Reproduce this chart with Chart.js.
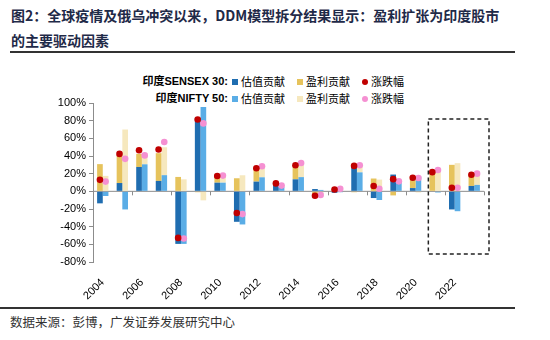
<!DOCTYPE html>
<html>
<head>
<meta charset="utf-8">
<script src="https://cdn.jsdelivr.net/npm/chart.js@4"></script>
<style>
  body { margin: 0; width: 550px; height: 340px; background: #fff; position: relative; overflow: hidden;
         font-family: "Liberation Sans", "Noto Sans CJK SC", sans-serif; }
  #title { position: absolute; left: 11px; top: 3px; width: 540px; white-space: nowrap; font-family: "Noto Sans CJK SC"; font-weight: bold;
           font-size: 14px; line-height: 25px; color: #1f2a48; }
  #rule1 { position: absolute; left: 10px; top: 51px; width: 505px; height: 2px; background: #333; }
  #rule2 { position: absolute; left: 0px; top: 307px; width: 515px; height: 2px; background: #333; }
  #source { position: absolute; left: 10px; top: 312px; font-family: "Noto Sans CJK SC"; font-size: 12.5px; color: #333; }
  .lg { position: absolute; font-size: 11px; color: #000; height: 16px; line-height: 16px; }
  .lg .name { position: absolute; right: 322px; white-space: nowrap; font-weight: bold; }
  .lg .it { position: absolute; white-space: nowrap; font-family: "Noto Sans CJK SC"; }
  .sw { display: inline-block; width: 6px; height: 6px; margin-right: 3px; vertical-align: 1px; }
  .dot { border-radius: 50%; }
  #wrap { position: absolute; left: 30px; top: 92px; width: 480px; height: 215px; }
</style>
</head>
<body>
<div id="title">图2：全球疫情及俄乌冲突以来，DDM模型拆分结果显示：盈利扩张为印度股市<br>的主要驱动因素</div>
<div id="rule1"></div>

<div class="lg" style="left:0;top:73px;width:550px">
  <span class="name">印度SENSEX 30:</span>
  <span class="it" style="left:232px"><span class="sw" style="background:#1f6db0"></span>估值贡献</span>
  <span class="it" style="left:297px"><span class="sw" style="background:#e6c35c"></span>盈利贡献</span>
  <span class="it" style="left:362px"><span class="sw dot" style="background:#c00000"></span>涨跌幅</span>
</div>
<div class="lg" style="left:0;top:90px;width:550px">
  <span class="name">印度NIFTY 50:</span>
  <span class="it" style="left:232px"><span class="sw" style="background:#5aade6"></span>估值贡献</span>
  <span class="it" style="left:297px"><span class="sw" style="background:#f6e8be"></span>盈利贡献</span>
  <span class="it" style="left:362px"><span class="sw dot" style="background:#f590d2"></span>涨跌幅</span>
</div>

<div id="wrap"><canvas id="chart"></canvas></div>
<div id="rule2"></div>
<div id="source">数据来源：彭博，广发证券发展研究中心</div>

<script>
// years on the x axis
const years = ['2004','2005','2006','2007','2008','2009','2010','2011','2012','2013',
               '2014','2015','2016','2017','2018','2019','2020','2021','2022','2023'];

// SENSEX 30: valuation / earnings contribution and index change (%)
const sensexVal    = [-13.6, 9.4, 27.6, 11.8, -59.5, 83, 9.8, -34.5, 11, 7, 13.6, 2.6, -1.7, 29, -7.6, 19, 3.7, 0, -20.5, 6.1];
const sensexEarn   = [30.8, 30.9, 14.9, 31.4, 16.3, -1, 8, 14.8, 15.9, 2, 15, -7, 3, -1, 14.5, -4.6, 13.3, 21, 30, 13];
const sensexChange = [13, 42.4, 46.5, 47.3, -52.7, 81.4, 17.4, -24.6, 26.1, 9, 29.6, -5, 2, 28.8, 6, 13.8, 15.3, 21.7, 4.1, 18.7];

// NIFTY 50
const niftyVal    = [-5.3, -20.5, 30.6, 18.3, -59.5, 95.5, 9.8, -37.5, 15.9, 5, 16.1, 1.6, -1, 21.5, -9.8, 11.8, 16.6, -1.3, -22.5, 7.3];
const niftyEarn   = [17.5, 70, 12.6, 31.6, 13.6, -10.2, 8.4, 18.2, 14, 1.5, 15.5, -3, 3.5, 9, 13.3, -0.5, -1.3, 24.3, 31.9, 14];
const niftyChange = [11, 36.8, 40.7, 55.8, -53.4, 76.9, 17.8, -25.8, 28.4, 6.5, 32, -4.2, 2.8, 29.6, 2.9, 11.3, 15.1, 24.2, 4.1, 20];

const yTicks = [-80, -60, -40, -20, 0, 20, 40, 60, 80, 100];

// put the dots over the centre of their own bar
const dotShift = {
  id: 'dotShift',
  afterDatasetsUpdate(chart) {
    [[4, 0], [5, 2]].forEach(([dot, bar]) => {
      const dm = chart.getDatasetMeta(dot);
      const bm = chart.getDatasetMeta(bar);
      dm.data.forEach((pt, i) => { pt.x = bm.data[i].x; });
    });
  }
};

// zero line, x ticks every two years, dashed box round 2021-2023
const extras = {
  id: 'extras',
  beforeDatasetsDraw(chart) {
    const ctx = chart.ctx, x = chart.scales.x, y = chart.scales.y;
    const step = x.getPixelForValue(1) - x.getPixelForValue(0);
    const y0 = y.getPixelForValue(0);
    ctx.save();
    ctx.strokeStyle = '#8c8c8c';
    ctx.lineWidth = 1;
    ctx.beginPath();
    ctx.moveTo(chart.chartArea.left, y0);
    ctx.lineTo(chart.chartArea.right, y0);
    for (let i = 2; i <= years.length; i += 2) {
      const bx = Math.round(x.getPixelForValue(i - 1) + step / 2) + 0.5;
      ctx.moveTo(bx, y0);
      ctx.lineTo(bx, y0 + 4);
    }
    ctx.stroke();
    ctx.restore();
  },
  afterDatasetsDraw(chart) {
    const ctx = chart.ctx, x = chart.scales.x, y = chart.scales.y;
    const step = x.getPixelForValue(1) - x.getPixelForValue(0);
    const left = x.getPixelForValue(17) - step / 2 + 3;
    const right = chart.chartArea.right + 5;
    const top = y.getPixelForValue(82), bottom = y.getPixelForValue(-71);
    ctx.save();
    ctx.strokeStyle = '#222';
    ctx.lineWidth = 1.5;
    ctx.setLineDash([4, 3]);
    ctx.strokeRect(left, top, right - left, bottom - top);
    ctx.restore();
  }
};

const barBase = { borderWidth: 0, order: 1, barPercentage: 1.0, categoryPercentage: 0.58 };

new Chart(document.getElementById('chart'), {
  type: 'bar',
  data: {
    labels: years,
    datasets: [
      { ...barBase, label: 'SENSEX 估值贡献', data: sensexVal, backgroundColor: '#1f6db0', stack: 's' },
      { ...barBase, label: 'SENSEX 盈利贡献', data: sensexEarn, backgroundColor: '#e6c35c', stack: 's' },
      { ...barBase, label: 'NIFTY 估值贡献', data: niftyVal, backgroundColor: '#5aade6', stack: 'n' },
      { ...barBase, label: 'NIFTY 盈利贡献', data: niftyEarn, backgroundColor: '#f6e8be', stack: 'n' },
      { type: 'line', label: 'SENSEX 涨跌幅', data: sensexChange, stack: 'sc', order: 0, showLine: false,
        pointRadius: 3.3, pointBackgroundColor: '#c00000', pointBorderWidth: 0 },
      { type: 'line', label: 'NIFTY 涨跌幅', data: niftyChange, stack: 'nc', order: 0, showLine: false,
        pointRadius: 3.3, pointBackgroundColor: '#f590d2', pointBorderWidth: 0 }
    ]
  },
  options: {
    responsive: true,
    maintainAspectRatio: false,
    animation: false,
    layout: { padding: { top: 11, right: 26, left: 0, bottom: 0 } },
    plugins: { legend: { display: false }, tooltip: { enabled: false } },
    scales: {
      x: {
        stacked: true,
        grid: { display: false },
        border: { display: false },
        afterFit(scale) { scale.height = 45; },
        ticks: {
          autoSkip: false, maxRotation: 45, minRotation: 45, padding: 6,
          color: '#000', font: { family: 'Liberation Sans', size: 11 },
          callback(v, i) { return i % 2 === 0 ? years[i] : ''; }
        }
      },
      y: {
        stacked: true,
        min: -80, max: 100,
        afterFit(scale) { scale.width = 63; },
        afterBuildTicks(scale) { scale.ticks = yTicks.map(v => ({ value: v })); },
        grid: { drawOnChartArea: false, drawTicks: true, tickLength: 4, color: '#8c8c8c' },
        border: { color: '#8c8c8c' },
        ticks: {
          padding: 3, color: '#000', font: { family: 'Liberation Sans', size: 11 },
          callback(v) { return v + '%'; }
        }
      }
    }
  },
  plugins: [dotShift, extras]
});
</script>
</body>
</html>
